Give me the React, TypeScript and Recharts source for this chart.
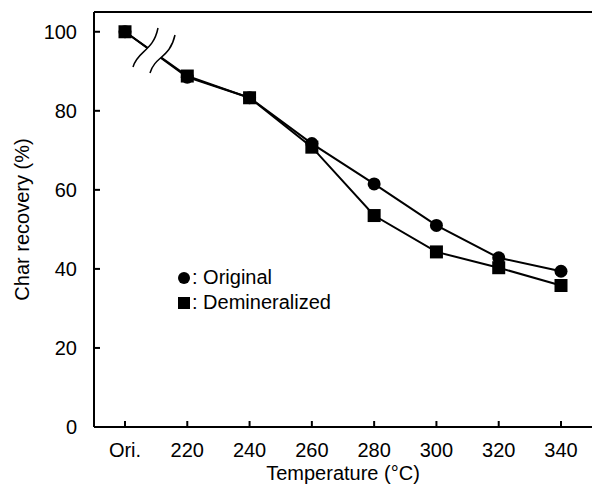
import { LineChart, Line, XAxis, YAxis, ReferenceLine } from "recharts";

const categories = ["Ori.", "220", "240", "260", "280", "300", "320", "340"];
const original = [100, 88.5, 83.3, 71.7, 61.5, 51.0, 42.8, 39.4];
const demineralized = [100, 88.8, 83.3, 70.8, 53.5, 44.3, 40.3, 35.8];
const yTicks = [0, 20, 40, 60, 80, 100];

const data = categories.map((t, i) => ({
  t,
  original: original[i],
  demineralized: demineralized[i],
}));

const font = "'Liberation Sans', Arial, sans-serif";

const Circle = (props: any) => {
  const { cx, cy } = props;
  if (cx == null || cy == null) return null;
  return <circle cx={cx} cy={cy} r={6.5} fill="#000" />;
};

const Square = (props: any) => {
  const { cx, cy } = props;
  if (cx == null || cy == null) return null;
  return <rect x={cx - 6.5} y={cy - 6.5} width={13} height={13} fill="#000" />;
};

const LegendBox = () => (
  <div
    style={{
      position: "absolute",
      left: 177,
      top: 265,
      fontFamily: font,
      fontSize: 20,
      color: "#000",
      lineHeight: "25px",
    }}
  >
    <div style={{ display: "flex", alignItems: "center" }}>
      <svg width={15} height={14}>
        <circle cx={7} cy={7} r={6} fill="#000" />
      </svg>
      <span>: Original</span>
    </div>
    <div style={{ display: "flex", alignItems: "center" }}>
      <svg width={15} height={14}>
        <rect x={1} y={1} width={12} height={12} fill="#000" />
      </svg>
      <span>: Demineralized</span>
    </div>
  </div>
);

// axis break marks between Ori. and 220
const arc1 = "M133,67 C138,50 153,52 158,28";
const arc2 = "M150,73 C155,56 170,58 175,35";

export default function App() {
  return (
    <div style={{ position: "absolute", left: 0, top: 0, width: 592, height: 497, overflow: "hidden", background: "#fff" }}>
      <LineChart
        width={600}
        height={497}
        data={data}
        margin={{ top: 12, right: 8, bottom: 0, left: 0 }}
        style={{ fontFamily: font }}
      >
        <XAxis
          dataKey="t"
          height={70}
          stroke="#000"
          strokeWidth={2}
          padding={{ left: 31, right: 31 }}
          tickSize={-6}
          tickMargin={16}
          tick={{ fill: "#000", fontSize: 20, dy: 6 }}
          interval={0}
          label={{ value: "Temperature (°C)", position: "insideBottom", offset: 17, fill: "#000", fontSize: 20 }}
        />
        <YAxis
          width={94}
          domain={[0, 105]}
          ticks={yTicks}
          stroke="#000"
          strokeWidth={2}
          tickSize={-6}
          tickMargin={23}
          tick={{ fill: "#000", fontSize: 20 }}
          label={{ value: "Char recovery (%)", angle: -90, position: "insideLeft", offset: 22, fill: "#000", fontSize: 20, style: { textAnchor: "middle" } }}
        />
        <ReferenceLine y={105} stroke="#000" strokeWidth={2} />
        <Line
          dataKey="original"
          stroke="#000"
          strokeWidth={2}
          dot={<Circle />}
          activeDot={false}
          isAnimationActive={false}
        />
        <Line
          dataKey="demineralized"
          stroke="#000"
          strokeWidth={2}
          dot={<Square />}
          activeDot={false}
          isAnimationActive={false}
        />
      </LineChart>
      <LegendBox />
      <svg width={592} height={497} style={{ position: "absolute", left: 0, top: 0, pointerEvents: "none" }}>
        <path d={arc1 + " L175,35 C170,58 155,56 150,73 Z"} fill="#fff" />
        <path d={arc1} fill="none" stroke="#000" strokeWidth={1.5} />
        <path d={arc2} fill="none" stroke="#000" strokeWidth={1.5} />
      </svg>
    </div>
  );
}
